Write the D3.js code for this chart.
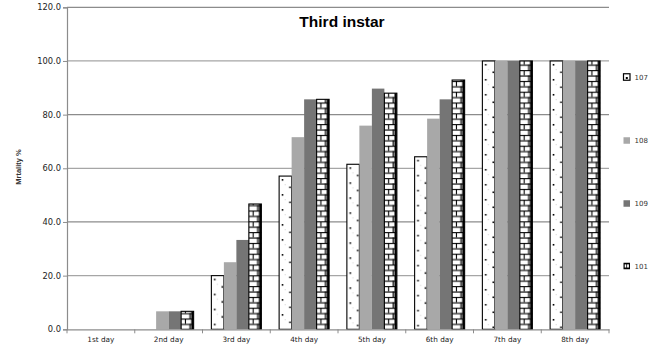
<!DOCTYPE html>
<html>
<head>
<meta charset="utf-8">
<script src="https://cdn.jsdelivr.net/npm/d3@7"></script>
<style>
  html, body { margin: 0; padding: 0; background: #fff; }
  svg { display: block; }
</style>
</head>
<body>
<svg id="chart" width="649" height="349"></svg>
<script>
// Mortality of third-instar larvae over eight days, four treatments
const days = ["1st day", "2nd day", "3rd day", "4th day", "5th day", "6th day", "7th day", "8th day"];
const seriesNames = ["107", "108", "109", "101"];
const s107 = [0, 0, 20.0, 57.1, 61.5, 64.3, 100, 100];
const s108 = [0, 6.7, 25.0, 71.6, 75.9, 78.5, 100, 100];
const s109 = [0, 6.7, 33.3, 85.7, 89.7, 85.7, 100, 100];
const s101 = [0, 6.7, 46.7, 85.7, 88.0, 92.9, 100, 100];
const yTicks = [0, 20, 40, 60, 80, 100, 120];

const values = { "107": s107, "108": s108, "109": s109, "101": s101 };

const svg = d3.select("#chart");
const margin = { left: 67, right: 40, top: 7, bottom: 20 };
const plotRight = 609, plotBottom = 329.3;

const x0 = d3.scaleBand().domain(days).range([margin.left, plotRight]).paddingInner(0).paddingOuter(0);
const bw = x0.bandwidth();
const x1 = d3.scaleBand().domain(seriesNames).range([bw * 0.131, bw * 0.869]).padding(0);
const y = d3.scaleLinear().domain([0, 120]).range([plotBottom, 7.3]);

const defs = svg.append("defs");

// gridlines
svg.append("g")
  .selectAll("line")
  .data(yTicks.filter(t => t > 0))
  .join("line")
  .attr("x1", margin.left).attr("x2", plotRight)
  .attr("y1", d => y(d)).attr("y2", d => y(d))
  .attr("stroke", (d, i) => i % 2 ? "#8c8c8c" : "#a6a6a6")
  .attr("stroke-width", 1.2);

// pattern builders
function dotPattern(id, px, py, w) {
  const p = defs.append("pattern").attr("id", id)
    .attr("patternUnits", "userSpaceOnUse")
    .attr("x", px).attr("y", py).attr("width", w).attr("height", 15);
  p.append("rect").attr("width", w).attr("height", 15).attr("fill", "#fff");
  p.append("rect").attr("x", 2.6).attr("y", 3).attr("width", 1.6).attr("height", 1.6).attr("fill", "#000");
  p.append("rect").attr("x", w - 2.4).attr("y", 10.5).attr("width", 1.6).attr("height", 1.6).attr("fill", "#000");
  p.append("rect").attr("x", 5.5).attr("y", 8).attr("width", 1.2).attr("height", 1.2).attr("fill", "#ddd");
}
function brickPattern(id, px, py, w) {
  const row = 5.4, h = row * 2, m = 1.1;
  const p = defs.append("pattern").attr("id", id)
    .attr("patternUnits", "userSpaceOnUse")
    .attr("x", px).attr("y", py).attr("width", w).attr("height", h);
  p.append("rect").attr("width", w).attr("height", h).attr("fill", "#fff");
  p.append("rect").attr("x", 0).attr("y", 0).attr("width", w).attr("height", m).attr("fill", "#000");
  p.append("rect").attr("x", 0).attr("y", row).attr("width", w).attr("height", m).attr("fill", "#000");
  p.append("rect").attr("x", w * 0.3).attr("y", 0).attr("width", m).attr("height", row).attr("fill", "#000");
  p.append("rect").attr("x", w * 0.66).attr("y", row).attr("width", m).attr("height", row).attr("fill", "#000");
  p.append("rect").attr("x", w - 2.4).attr("y", 0).attr("width", 2.4).attr("height", h).attr("fill", "#000");
}

const greyFill = { "108": "#a8a8a8", "109": "#757575" };

// bars
const barsG = svg.append("g");
days.forEach((day, di) => {
  seriesNames.forEach((s, si) => {
    const v = values[s][di];
    if (v <= 0) return;
    const bx = x0(day) + x1(s);
    const bwid = x1.bandwidth();
    const top = y(v);
    const hgt = y(0) - top;
    let fill;
    if (s === "107") {
      const id = `dots-${di}`;
      dotPattern(id, bx, top, bwid);
      fill = `url(#${id})`;
    } else if (s === "101") {
      const id = `brick-${di}`;
      brickPattern(id, bx, plotBottom, bwid);
      fill = `url(#${id})`;
    } else {
      fill = greyFill[s];
    }
    const r = barsG.append("rect")
      .attr("x", bx).attr("y", top)
      .attr("width", bwid).attr("height", hgt)
      .attr("fill", fill);
    if (s === "107" || s === "101") {
      r.attr("stroke", "#000").attr("stroke-width", 1.1);
    }
  });
});

// axes
const axisColor = "#8c8c8c";
const yAxis = svg.append("g").attr("transform", `translate(${margin.left},0)`)
  .call(d3.axisLeft(y).tickValues(yTicks).tickSize(4).tickFormat(d3.format(".1f")));
yAxis.select(".domain").attr("stroke", axisColor).attr("stroke-width", 1.2);
yAxis.selectAll(".tick line").attr("stroke", axisColor);
yAxis.selectAll("text").attr("font-family", "DejaVu Sans, sans-serif").attr("font-size", 8.3)
  .attr("fill", "#222").attr("x", -6);

const xAxis = svg.append("g").attr("transform", `translate(0,${plotBottom})`)
  .call(d3.axisBottom(x0).tickSize(0).tickPadding(8));
xAxis.select(".domain").attr("stroke", axisColor).attr("stroke-width", 1.2);
xAxis.selectAll("text").attr("font-family", "DejaVu Sans, sans-serif").attr("font-size", 7.3).attr("fill", "#222");
// boundary ticks between categories
svg.append("g").selectAll("line")
  .data(d3.range(days.length + 1))
  .join("line")
  .attr("x1", i => margin.left + i * bw).attr("x2", i => margin.left + i * bw)
  .attr("y1", plotBottom).attr("y2", plotBottom + 4)
  .attr("stroke", axisColor).attr("stroke-width", 1);

// title
svg.append("text")
  .attr("x", 342).attr("y", 27)
  .attr("text-anchor", "middle")
  .attr("font-family", "Liberation Sans, Arial, sans-serif")
  .attr("font-weight", "bold").attr("font-size", 15.5)
  .text("Third instar");

// y axis label
svg.append("text")
  .attr("transform", "translate(21,167) rotate(-90)")
  .attr("text-anchor", "middle")
  .attr("font-family", "Liberation Sans, Arial, sans-serif")
  .attr("font-weight", "bold").attr("font-size", 7.5)
  .attr("fill", "#333")
  .text("Mrtality %");

// legend
const legendY = [77, 140.5, 203.5, 266];
const lg = svg.append("g");
seriesNames.forEach((s, i) => {
  const ly = legendY[i];
  const sx = 623.5, sz = 6.5;
  if (s === "107") {
    lg.append("rect").attr("x", sx).attr("y", ly - sz / 2).attr("width", sz).attr("height", sz)
      .attr("fill", "#fff").attr("stroke", "#000").attr("stroke-width", 1.2);
    lg.append("rect").attr("x", sx + 2.3).attr("y", ly).attr("width", 2).attr("height", 2).attr("fill", "#000");
  } else if (s === "101") {
    lg.append("rect").attr("x", sx).attr("y", ly - sz / 2).attr("width", sz).attr("height", sz)
      .attr("fill", "#000");
    lg.append("rect").attr("x", sx + 1.2).attr("y", ly - sz / 2 + 1.6).attr("width", 1.6).attr("height", 3.2).attr("fill", "#fff");
    lg.append("rect").attr("x", sx + 3.6).attr("y", ly - sz / 2 + 1.6).attr("width", 1.8).attr("height", 3.2).attr("fill", "#fff");
  } else {
    lg.append("rect").attr("x", sx).attr("y", ly - sz / 2).attr("width", sz).attr("height", sz)
      .attr("fill", greyFill[s]);
  }
  lg.append("text").attr("x", 634.5).attr("y", ly + 2.6)
    .attr("font-family", "DejaVu Sans, sans-serif").attr("font-size", 7)
    .attr("fill", "#333")
    .text(s);
});
</script>
</body>
</html>
